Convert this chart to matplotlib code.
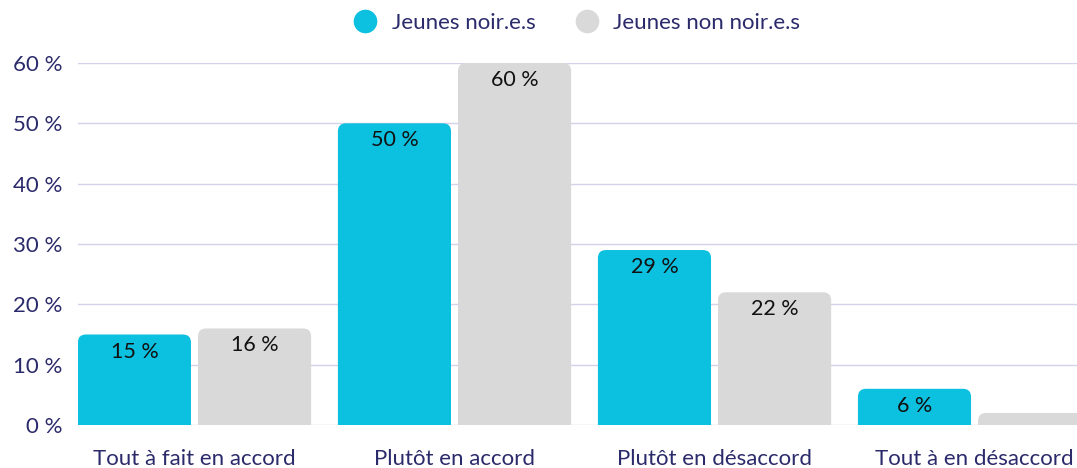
import matplotlib
matplotlib.use('Agg')
import matplotlib.pyplot as plt
from matplotlib.patches import FancyBboxPatch
from matplotlib.lines import Line2D

categories = ['Tout à fait en accord', 'Plutôt en accord',
              'Plutôt en désaccord', 'Tout à en désaccord']
series_names = ['Jeunes noir.e.s', 'Jeunes non noir.e.s']
noirs = [15, 50, 29, 6]
non_noirs = [16, 60, 22, 2]
# the last grey bar carries no label in the reference
show_label = [[True, True, True, True], [True, True, True, False]]

blue = '#0cc0df'
grey = '#d9d9d9'
navy = '#2b2a6b'
grid_col = '#d4d2e8'

plt.rcParams['font.family'] = ['Lato', 'DejaVu Sans']

fig = plt.figure(figsize=(10.77, 4.68), dpi=100)
ax = fig.add_axes([78 / 1077, 43 / 468, 1 - 78 / 1077, (425 - 63) / 468])

x = list(range(len(categories)))
width = 0.435
offset = 0.231

bars_a = ax.bar([i - offset for i in x], noirs, width, color='none')
bars_b = ax.bar([i + offset for i in x], non_noirs, width, color='none')

ax.set_xlim(-0.448, 3.394)
ax.set_ylim(0, 60)

# rounded top corners: rebuild each bar as a rounded box that dips below 0
px_x = 3.842 / 999.0    # data units per pixel along x
px_y = 60.0 / 362.0     # data units per pixel along y
r_px = 8
for bars, col, vals, flags in [(bars_a, blue, noirs, show_label[0]),
                               (bars_b, grey, non_noirs, show_label[1])]:
    for b, v, f in zip(bars, vals, flags):
        bx, bw, bh = b.get_x(), b.get_width(), b.get_height()
        patch = FancyBboxPatch((bx, -r_px * px_y * 2), bw, bh + r_px * px_y * 2,
                               boxstyle='round,pad=0,rounding_size=%f' % (r_px * px_x),
                               mutation_aspect=px_y / px_x,
                               facecolor=col, edgecolor='none', zorder=2)
        ax.add_patch(patch)
        if f:
            ax.text(bx + bw / 2, bh - 17 * px_y, '%d %%' % v,
                    ha='center', va='center', fontsize=15.5, color='#111111',
                    zorder=3)

ax.set_yticks([0, 10, 20, 30, 40, 50, 60])
ax.set_yticklabels(['%d %%' % t for t in [0, 10, 20, 30, 40, 50, 60]])
ax.set_xticks(x)
ax.set_xticklabels(categories)
ax.tick_params(axis='y', length=0, pad=11.5, labelsize=16, labelcolor=navy)
ax.tick_params(axis='x', length=0, pad=17, labelsize=16, labelcolor=navy)
ax.grid(axis='y', color=grid_col, linewidth=1.0, zorder=0)
ax.set_axisbelow(True)
for s in ax.spines.values():
    s.set_visible(False)

handles = [Line2D([], [], marker='o', linestyle='none', markersize=16,
                  markerfacecolor=c, markeredgecolor=c) for c in (blue, grey)]
leg = fig.legend(handles, series_names, loc='center', ncol=2,
                 bbox_to_anchor=(0.535, 0.951), frameon=False, fontsize=16,
                 handlelength=1.2, handletextpad=0.6, columnspacing=1.7,
                 labelcolor=navy)

fig.savefig('out.png', dpi=100)
